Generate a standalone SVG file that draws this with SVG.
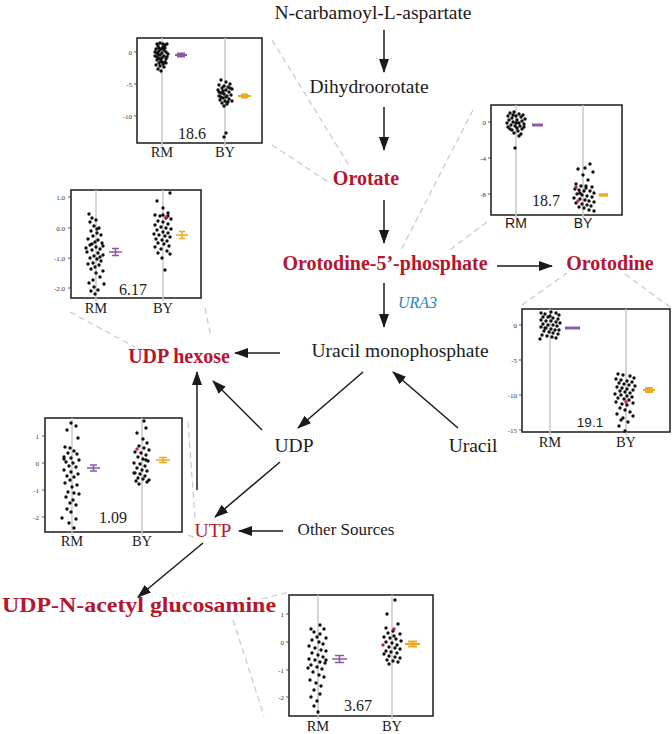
<svg xmlns="http://www.w3.org/2000/svg" width="672" height="734" viewBox="0 0 672 734">
<style>
.t{font-family:"Liberation Serif","Times New Roman",serif;fill:#1a1a1a}
.bk{font-size:19.5px}
.rb{font-size:20px;font-weight:bold;fill:#b5152d}
.ura{font-size:16px;font-style:italic;fill:#2e7fc0}
.box{fill:#fff;stroke:#1a1a1a;stroke-width:1.5}
.grid{stroke:#c8c8c8;stroke-width:1.5}
.tick{stroke:#333;stroke-width:0.8}
.tl{font-family:"Liberation Serif",serif;font-size:7px;fill:#333;text-anchor:end}
.xl{font-family:"Liberation Serif",serif;font-size:14.5px;fill:#1a1a1a;text-anchor:middle}
.xs{font-family:"Liberation Sans",Arial,sans-serif;font-size:14px;fill:#1a1a1a;text-anchor:middle}
.num{font-family:"Liberation Serif",serif;font-size:16px;fill:#1a1a1a;text-anchor:middle}
.nums{font-family:"Liberation Sans",Arial,sans-serif;font-size:13.5px;fill:#1a1a1a;text-anchor:middle}
.dot{fill:none;stroke:#111;stroke-width:3.4;stroke-linecap:round}
.rdot{fill:none;stroke:#d0203a;stroke-width:3.4;stroke-linecap:round}
.pm{stroke:#8a5aa8;stroke-width:1.6;fill:none}
.om{stroke:#f0a820;stroke-width:1.6;fill:none}
.arr{stroke:#1a1a1a;stroke-width:1.5;fill:none;marker-end:url(#ah)}
.dash{stroke:#c8c8c8;stroke-width:1.2;stroke-dasharray:6 4;fill:none}
</style>
<defs>
<marker id="ah" markerWidth="14" markerHeight="10" refX="13" refY="5" orient="auto" markerUnits="userSpaceOnUse">
<path d="M0,0 L14,5 L0,10 z" fill="#1a1a1a"/>
</marker>
</defs>

<g id="connectors">
<line class="arr" x1="384" y1="30" x2="384" y2="72"/>
<line class="arr" x1="384" y1="107" x2="384" y2="150"/>
<line class="arr" x1="384" y1="200" x2="384" y2="243"/>
<line class="arr" x1="497" y1="266" x2="552" y2="266"/>
<line class="arr" x1="384" y1="283" x2="384" y2="327"/>
<line class="arr" x1="280" y1="353" x2="235" y2="353"/>
<line class="arr" x1="363" y1="372" x2="298" y2="428"/>
<line class="arr" x1="458" y1="428" x2="393" y2="372"/>
<line class="arr" x1="262" y1="430" x2="213" y2="381"/>
<line class="arr" x1="197" y1="490" x2="197" y2="372"/>
<line class="arr" x1="280" y1="462" x2="215" y2="517"/>
<line class="arr" x1="283" y1="531" x2="239" y2="531"/>
<line class="arr" x1="203" y1="543" x2="138" y2="597"/>
<line class="dash" x1="272" y1="40" x2="350" y2="167"/>
<line class="dash" x1="272" y1="145" x2="330" y2="183"/>
<line class="dash" x1="473" y1="110" x2="400" y2="252"/>
<line class="dash" x1="487" y1="222" x2="447" y2="252"/>
<line class="dash" x1="70" y1="312" x2="135" y2="347"/>
<line class="dash" x1="205" y1="308" x2="211" y2="337"/>
<line class="dash" x1="522" y1="305" x2="567" y2="273"/>
<line class="dash" x1="625" y1="274" x2="670" y2="307"/>
<line class="dash" x1="188" y1="422" x2="195" y2="518"/>
<line class="dash" x1="188" y1="535" x2="195" y2="538"/>
<line class="dash" x1="262" y1="599" x2="289" y2="592"/>
<line class="dash" x1="233" y1="620" x2="264" y2="716"/>
</g>

<g id="n-carbamoyl"><text class="t bk" x="373" y="19" text-anchor="middle">N-carbamoyl-L-aspartate</text></g>
<g id="dihydroorotate"><text class="t bk" x="369" y="93" text-anchor="middle">Dihydroorotate</text></g>
<g id="orotate"><text class="t rb" x="366" y="185" text-anchor="middle">Orotate</text></g>
<g id="omp"><text class="t rb" x="385" y="270" text-anchor="middle">Orotodine-5’-phosphate</text></g>
<g id="orotodine"><text class="t rb" x="610" y="270" text-anchor="middle">Orotodine</text></g>
<g id="ura3"><text class="t ura" x="398" y="308">URA3</text></g>
<g id="ump"><text class="t bk" x="400" y="357" text-anchor="middle">Uracil monophosphate</text></g>
<g id="udphexose"><text class="t rb" x="179" y="363" text-anchor="middle">UDP hexose</text></g>
<g id="udp"><text class="t bk" x="294" y="452" text-anchor="middle">UDP</text></g>
<g id="uracil"><text class="t bk" x="473" y="452" text-anchor="middle">Uracil</text></g>
<g id="utp"><text class="t bk" x="213" y="537" text-anchor="middle" style="fill:#b5152d">UTP</text></g>
<g id="othersources"><text class="t" x="346" y="535" text-anchor="middle" style="font-size:17px">Other Sources</text></g>
<g id="udpnag"><text class="t rb" x="2" y="612" style="font-size:21px" textLength="274" lengthAdjust="spacingAndGlyphs">UDP-N-acetyl glucosamine</text></g>

<g id="plot-orotate">
<rect class="box" x="137" y="38" width="125" height="105"/>
<line class="grid" x1="162" y1="38" x2="162" y2="146"/>
<line class="grid" x1="225" y1="38" x2="225" y2="146"/>
<path class="tick" d="M134 52h3M134 84h3M134 116h3"/>
<text class="tl" x="132" y="54.5">0</text><text class="tl" x="132" y="86.5">-5</text><text class="tl" x="132" y="118.5">-10</text>
<path class="dot" d="M157 44h0M160 43h0M165 45h0M163 47h0M158 46h0M167 44h0M156 49h0M161 49h0M164 50h0M159 51h0M166 52h0M157 53h0M162 53h0M168 54h0M160 55h0M155 56h0M164 56h0M158 58h0M162 58h0M166 59h0M157 60h0M161 61h0M165 62h0M159 63h0M163 64h0M156 65h0M160 66h0M164 67h0M158 69h0M161 71h0M167 57h0M155 52h0M163 44h0M159 48h0M165 48h0M157 57h0M166 63h0M160 59h0M162 62h0M158 54h0"/>
<path class="dot" d="M221 80h0M226 82h0M230 84h0M219 85h0M224 86h0M228 87h0M222 88h0M232 89h0M218 90h0M226 90h0M229 92h0M221 93h0M224 94h0M231 95h0M219 96h0M227 96h0M223 98h0M229 99h0M220 100h0M225 101h0M232 101h0M222 103h0M227 104h0M224 106h0M219 92h0M230 88h0M226 97h0M223 91h0M228 102h0M221 97h0M224 137h0M226 133h0"/>
<path class="pm" d="M175 55h12M177 53.5h8M177 56.5h8M181 53.5v3" style="stroke-width:2"/>
<path class="om" d="M238 96h13M241 94.5h7M241 97.5h7M244.5 94.5v3" style="stroke-width:2"/>
<text class="xl" x="162" y="157">RM</text><text class="xl" x="225" y="157">BY</text>
<text class="num" x="192" y="139">18.6</text>
</g>

<g id="plot-omp">
<rect class="box" x="491" y="105" width="131" height="110"/>
<line class="grid" x1="516" y1="105" x2="516" y2="218"/>
<line class="grid" x1="583" y1="105" x2="583" y2="218"/>
<path class="tick" d="M488 122h3M488 158h3M488 194h3"/>
<text class="tl" x="486" y="124.5">0</text><text class="tl" x="486" y="160.5">-4</text><text class="tl" x="486" y="196.5">-8</text>
<path class="dot" d="M510 113h0M514 112h0M519 114h0M523 115h0M508 116h0M516 116h0M521 117h0M512 118h0M525 119h0M509 120h0M517 120h0M522 121h0M513 122h0M507 123h0M519 123h0M524 124h0M511 125h0M515 126h0M520 126h0M508 127h0M517 128h0M522 129h0M512 130h0M518 131h0M514 133h0M521 134h0M510 129h0M516 123h0M513 115h0M524 127h0M515 148h0M519 136h0"/>
<path class="dot" d="M590 164h0M585 168h0M578 169h0M593 172h0M583 175h0M588 180h0M576 184h0M581 186h0M586 186h0M592 187h0M575 189h0M579 190h0M584 191h0M590 191h0M594 193h0M577 194h0M582 195h0M587 196h0M592 197h0M574 198h0M580 199h0M585 200h0M589 201h0M594 202h0M576 203h0M582 204h0M587 205h0M591 206h0M579 207h0M584 208h0M589 210h0M594 211h0M586 188h0M580 193h0"/>
<path class="rdot" d="M576 187h0M578 201h0"/>
<path class="pm" d="M532 125h11" style="stroke-width:3"/>
<path class="om" d="M599 195h9" style="stroke-width:3.5"/>
<text class="xs" x="516" y="228">RM</text><text class="xs" x="583" y="228">BY</text>
<text class="num" x="546" y="206">18.7</text>
</g>

<g id="plot-udphexose">
<rect class="box" x="71" y="190" width="130" height="108"/>
<line class="grid" x1="96" y1="190" x2="96" y2="301"/>
<line class="grid" x1="163" y1="190" x2="163" y2="301"/>
<path class="tick" d="M68 197h3M68 228h3M68 258h3M68 288h3"/>
<text class="tl" x="65" y="199.5">1.0</text><text class="tl" x="65" y="230.5">0.0</text><text class="tl" x="65" y="260.5">-1.0</text><text class="tl" x="65" y="290.5">-2.0</text>
<path class="dot" d="M89 214h0M92 218h0M90 222h0M96 220h0M94 226h0M99 228h0M91 231h0M97 233h0M101 235h0M93 236h0M88 239h0M98 240h0M95 242h0M102 243h0M90 245h0M96 247h0M100 249h0M92 250h0M87 252h0M98 253h0M103 255h0M94 256h0M90 258h0M97 259h0M101 261h0M93 263h0M88 264h0M99 265h0M95 267h0M91 269h0M103 271h0M96 273h0M100 277h0M93 280h0M89 283h0M104 284h0M94 287h0M91 291h0M98 290h0M95 294h0M100 257h0M92 244h0M97 229h0M103 246h0M86 248h0"/>
<path class="dot" d="M170 193h0M157 201h0M163 208h0M168 213h0M155 215h0M160 216h0M166 218h0M171 219h0M158 221h0M163 222h0M168 224h0M155 225h0M161 227h0M166 228h0M171 229h0M157 230h0M163 232h0M168 233h0M154 234h0M159 235h0M165 236h0M170 237h0M156 239h0M162 240h0M167 241h0M158 243h0M164 244h0M169 246h0M155 247h0M161 249h0M167 251h0M158 253h0M170 254h0M162 258h0M165 270h0M168 216h0M163 215h0"/>
<path class="rdot" d="M166 217h0"/>
<path class="pm" d="M109 252h13M112 248.5h7M112 255.5h7M115.5 248.5v7"/>
<path class="om" d="M176 235h12M179 231.5h6M179 238.5h6M182 231.5v7"/>
<text class="xl" x="96" y="313">RM</text><text class="xl" x="163" y="313">BY</text>
<text class="num" x="133" y="295">6.17</text>
</g>

<g id="plot-orotodine">
<rect class="box" x="522" y="309" width="148" height="123"/>
<line class="grid" x1="550" y1="309" x2="550" y2="435"/>
<line class="grid" x1="626" y1="309" x2="626" y2="435"/>
<path class="tick" d="M519 325h3M519 360h3M519 395h3M519 430h3"/>
<text class="tl" x="517" y="327.5">0</text><text class="tl" x="517" y="362.5">-5</text><text class="tl" x="517" y="397.5">-10</text><text class="tl" x="517" y="432.5">-15</text>
<path class="dot" d="M541 313h0M545 314h0M551 312h0M556 313h0M559 315h0M543 317h0M548 317h0M553 318h0M558 319h0M541 320h0M546 321h0M551 321h0M556 322h0M560 323h0M543 324h0M548 325h0M553 325h0M557 326h0M541 327h0M546 328h0M551 329h0M555 330h0M559 330h0M544 331h0M549 332h0M553 333h0M558 334h0M542 335h0M547 336h0M552 337h0M556 338h0M540 339h0M550 316h0M545 328h0"/>
<path class="dot" d="M618 374h0M623 375h0M630 376h0M634 378h0M616 379h0M621 380h0M627 381h0M632 382h0M619 383h0M624 384h0M629 385h0M635 386h0M617 387h0M622 388h0M627 389h0M633 390h0M620 391h0M625 392h0M630 393h0M615 394h0M621 395h0M627 396h0M632 397h0M618 398h0M624 399h0M629 400h0M616 402h0M622 404h0M627 405h0M633 403h0M620 408h0M625 410h0M630 412h0M617 414h0M623 418h0M628 422h0M633 416h0M619 426h0M625 431h0M621 420h0"/>
<path class="rdot" d="M626 402h0"/>
<path class="pm" d="M565 328h15" style="stroke-width:3"/>
<path class="om" d="M643 390h12M645 388h8M645 392h8M649 388v4" style="stroke-width:2"/>
<text class="xl" x="550" y="447">RM</text><text class="xl" x="626" y="447">BY</text>
<text class="nums" x="590" y="427">19.1</text>
</g>

<g id="plot-utp">
<rect class="box" x="45" y="418" width="137" height="114"/>
<line class="grid" x1="72" y1="418" x2="72" y2="535"/>
<line class="grid" x1="142" y1="418" x2="142" y2="535"/>
<path class="tick" d="M42 436h3M42 463h3M42 490h3M42 517h3"/>
<text class="tl" x="39" y="438.5">1</text><text class="tl" x="39" y="465.5">0</text><text class="tl" x="39" y="492.5">-1</text><text class="tl" x="39" y="519.5">-2</text>
<path class="dot" d="M71 423h0M76 426h0M67 430h0M78 438h0M65 447h0M70 448h0M74 451h0M68 453h0M77 454h0M64 457h0M71 458h0M79 460h0M66 462h0M73 463h0M69 466h0M76 467h0M64 470h0M71 472h0M78 474h0M67 476h0M74 477h0M70 480h0M65 483h0M77 485h0M72 487h0M68 492h0M79 494h0M66 497h0M73 500h0M70 503h0M76 505h0M67 509h0M71 512h0M74 493h0M62 518h0M76 519h0M69 523h0M74 528h0M64 459h0"/>
<path class="dot" d="M144 421h0M146 428h0M137 433h0M143 439h0M147 443h0M139 446h0M144 448h0M149 450h0M135 452h0M141 453h0M146 455h0M138 457h0M143 459h0M148 461h0M134 463h0M140 464h0M145 466h0M137 468h0M142 470h0M147 471h0M135 473h0M140 474h0M145 476h0M138 478h0M143 479h0M149 480h0M136 481h0M147 482h0M139 484h0M134 473h0M146 460h0"/>
<path class="rdot" d="M137 449h0"/>
<path class="pm" d="M87 468h13M90 465h7M90 471h7M93.5 465v6"/>
<path class="om" d="M156 460h14M159 457.5h8M159 462.5h8M163 457.5v5"/>
<text class="xl" x="72" y="546">RM</text><text class="xl" x="142" y="546">BY</text>
<text class="num" x="113" y="523">1.09</text>
</g>

<g id="plot-udpnag">
<rect class="box" x="289" y="595" width="144" height="121"/>
<line class="grid" x1="318" y1="595" x2="318" y2="719"/>
<line class="grid" x1="392" y1="595" x2="392" y2="719"/>
<path class="tick" d="M286 614h3M286 642h3M286 670h3M286 697h3"/>
<text class="tl" x="284" y="616.5">1</text><text class="tl" x="284" y="644.5">0</text><text class="tl" x="284" y="672.5">-1</text><text class="tl" x="284" y="699.5">-2</text>
<path class="dot" d="M311 629h0M320 625h0M324 629h0M314 632h0M320 634h0M317 637h0M326 638h0M312 640h0M319 642h0M323 644h0M309 646h0M315 648h0M321 650h0M326 651h0M312 653h0M318 655h0M323 657h0M309 659h0M315 660h0M320 662h0M325 663h0M311 665h0M317 667h0M322 669h0M313 672h0M319 675h0M324 677h0M310 680h0M316 683h0M321 686h0M314 690h0M320 694h0M311 697h0M317 701h0M314 706h0M318 712h0M308 668h0M326 660h0"/>
<path class="dot" d="M395 600h0M387 614h0M398 624h0M393 631h0M388 633h0M400 634h0M384 637h0M390 638h0M396 639h0M401 641h0M386 642h0M392 643h0M397 645h0M389 647h0M395 648h0M400 649h0M386 651h0M391 652h0M397 653h0M384 654h0M389 656h0M395 657h0M400 658h0M387 660h0M393 661h0M398 662h0M389 664h0M394 636h0M386 628h0"/>
<path class="rdot" d="M394 629h0M383 645h0"/>
<path class="pm" d="M332 659h15M335 655.5h9M335 662.5h9M339.5 655.5v7"/>
<path class="om" d="M405 644h15M408 641.5h9M408 646.5h9M412.5 641.5v5" style="stroke-width:2"/>
<text class="xl" x="318" y="731">RM</text><text class="xl" x="392" y="731">BY</text>
<text class="num" x="358" y="711">3.67</text>
</g>
</svg>
